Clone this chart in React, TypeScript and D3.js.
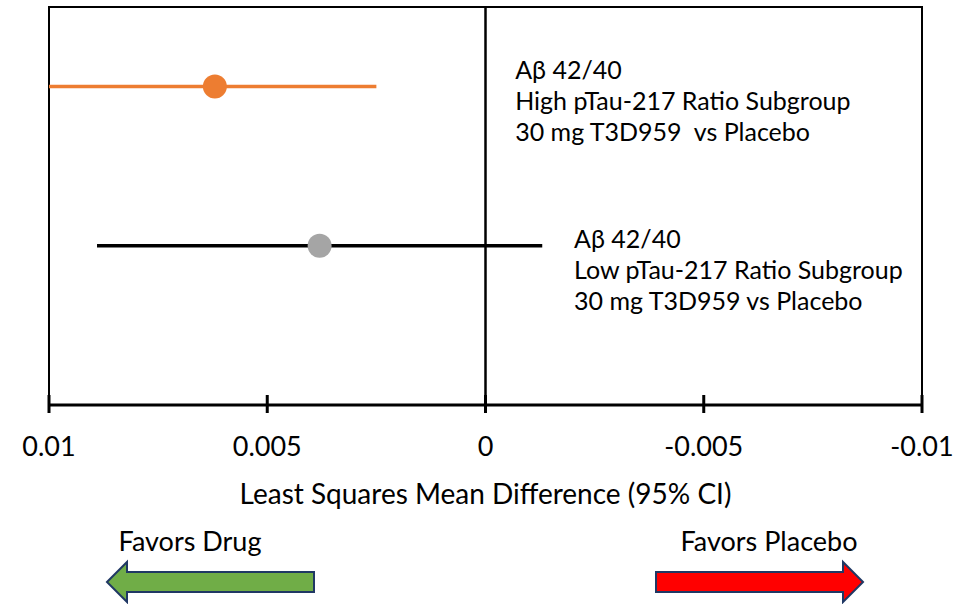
import React from 'react';
import * as d3 from 'd3';

// rows of the forest plot (top to bottom)
const labels = [
  ['Aβ 42/40', 'High pTau-217 Ratio Subgroup', '30 mg T3D959  vs Placebo'],
  ['Aβ 42/40', 'Low pTau-217 Ratio Subgroup', '30 mg T3D959 vs Placebo'],
];
const rowPos = [2, 1];
const estimates = [0.0062, 0.0038];
const lowerCI = [0.01, 0.0089];
const upperCI = [0.0025, -0.0013];
const colors = ['#ED7D31', '#A5A5A5'];
const lineColors = ['#ED7D31', '#000000'];
const tickValues = [0.01, 0.005, 0, -0.005, -0.01];
const tickLabels = ['0.01', '0.005', '0', '-0.005', '-0.01'];

const W = 974;
const H = 604;
const font = 'Lato, "Noto Sans", sans-serif';

function Arrow({x0, x1, yMid, dir, fill}) {
  // body height 20, head height 40, head length 20
  const hb = 10, hh = 20, hl = 20;
  let d;
  if (dir === 'left') {
    d = `M${x0},${yMid} L${x0 + hl},${yMid - hh} L${x0 + hl},${yMid - hb} L${x1},${yMid - hb} L${x1},${yMid + hb} L${x0 + hl},${yMid + hb} L${x0 + hl},${yMid + hh} Z`;
  } else {
    d = `M${x1},${yMid} L${x1 - hl},${yMid - hh} L${x1 - hl},${yMid - hb} L${x0},${yMid - hb} L${x0},${yMid + hb} L${x1 - hl},${yMid + hb} L${x1 - hl},${yMid + hh} Z`;
  }
  return <path d={d} fill={fill} stroke="#203864" strokeWidth={2} />;
}

export default function App() {
  const left = 49, right = 922, top = 7, bottom = 405;

  const x = d3.scaleLinear().domain([0.01, -0.01]).range([left, right]);
  const y = d3.scaleLinear().domain([0, 2.5]).range([bottom, top]);

  // annotation anchors (in data units) and vertical offsets
  const labelX = [x(-0.00068), x(-0.00203)];
  const labelDy = [-18, -8];

  return (
    <svg width={W} height={H} style={{display: 'block', position: 'absolute', left: 0, top: 0}} fontFamily={font}>
      <rect x={0} y={0} width={W} height={H} fill="#fff" />
      {/* frame */}
      <rect x={left} y={top} width={right - left} height={bottom - top} fill="none" stroke="#000" strokeWidth={2} />
      {/* zero line */}
      <line x1={x(0)} x2={x(0)} y1={top} y2={bottom} stroke="#000" strokeWidth={2.5} />

      {rowPos.map((r, i) => (
        <g key={`row_${i}`}>
          <line x1={x(lowerCI[i])} x2={x(upperCI[i])} y1={y(r)} y2={y(r)} stroke={lineColors[i]} strokeWidth={3.5} />
          <circle cx={x(estimates[i])} cy={y(r)} r={12} fill={colors[i]} />
          {labels[i].map((t, j) => (
            <text key={j} x={labelX[i]} y={y(r) + labelDy[i] + j * 31} fontSize={25} fill="#000" dominantBaseline="central" style={{whiteSpace: 'pre'}}>{t}</text>
          ))}
        </g>
      ))}

      {/* x axis */}
      <line x1={left} x2={right} y1={bottom} y2={bottom} stroke="#000" strokeWidth={3} />
      {tickValues.map((v, i) => (
        <g key={`tick_${i}`} transform={`translate(${x(v)}, ${bottom})`}>
          <line y1={-10} y2={8} stroke="#000" strokeWidth={3} />
          <text y={40} textAnchor="middle" fontSize={27} dominantBaseline="central">{tickLabels[i]}</text>
        </g>
      ))}
      <text x={x(0)} y={493} textAnchor="middle" fontSize={28} dominantBaseline="central">Least Squares Mean Difference (95% CI)</text>

      <text x={190} y={540} textAnchor="middle" fontSize={27} dominantBaseline="central">Favors Drug</text>
      <text x={769} y={540} textAnchor="middle" fontSize={27} dominantBaseline="central">Favors Placebo</text>
      <Arrow x0={107} x1={314} yMid={582} dir="left" fill="#70AD47" />
      <Arrow x0={656} x1={863} yMid={582} dir="right" fill="#FF0000" />
    </svg>
  );
}
